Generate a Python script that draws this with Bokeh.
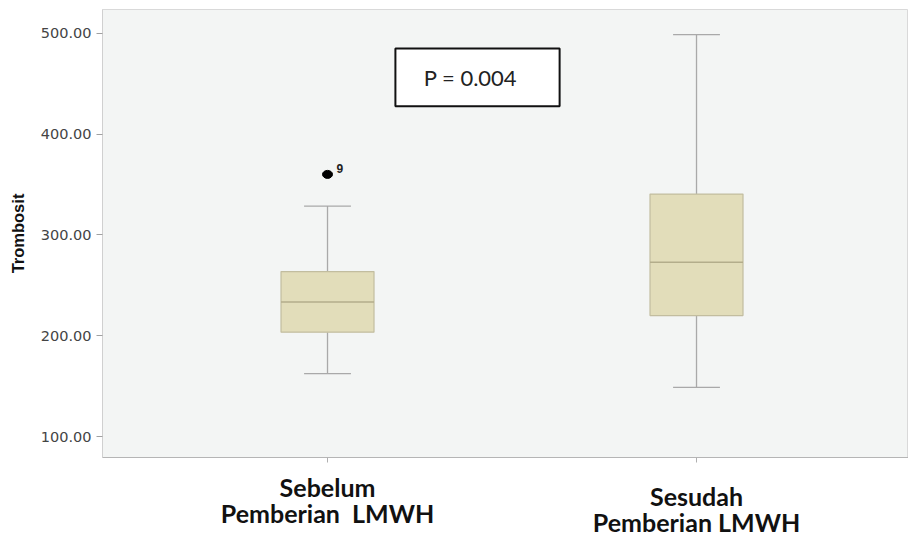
from bokeh.plotting import figure
from bokeh.models import (FixedTicker, PrintfTickFormatter, Label, BoxAnnotation,
                          ColumnDataSource, Range1d)
from bokeh.layouts import column
from bokeh.core.properties import value
from bokeh.embed import file_html
from bokeh.resources import INLINE

# ---- data ----
categories = ["Sebelum\nPemberian  LMWH", "Sesudah\nPemberian LMWH"]
positions = [1, 2]
q1 = [203.5, 220.0]
median = [233.5, 273.0]
q3 = [263.7, 340.6]
whisker_low = [162.4, 148.8]
whisker_high = [328.7, 498.7]
outlier_group = [1]
outlier_value = [360.1]
outlier_case = ["9"]
y_ticks = [100, 200, 300, 400, 500]
p_text = "P = 0.004"

# ---- styles ----
BOX_W = 0.252
CAP_W = 0.127
box_fill = "#e2ddba"
box_line = "#c2bd9f"
med_color = "#b3ad8b"
whisk_color = "#a9a9a9"

MAIN_H = 470
xr = Range1d(0.3902, 2.5745)
p = figure(width=908, height=MAIN_H, output_backend="svg", toolbar_location=None,
           x_range=xr, y_range=Range1d(79.2, 523.7),
           min_border_left=102, min_border_right=0, min_border_top=9,
           min_border_bottom=12)
p.background_fill_color = "#f3f5f4"
p.border_fill_color = "white"
p.outline_line_color = "#d9d9d9"
p.grid.visible = False

# y axis
p.yaxis.ticker = FixedTicker(ticks=y_ticks)
p.yaxis.formatter = PrintfTickFormatter(format="%.2f")
p.yaxis.axis_label = "Trombosit"
p.yaxis.axis_label_text_font = "Liberation Sans"
p.yaxis.axis_label_text_font_style = "bold"
p.yaxis.axis_label_text_font_size = "16.5px"
p.yaxis.axis_label_text_color = "#111111"
p.yaxis.axis_label_standoff = 11
p.yaxis.major_label_text_font = "DejaVu Sans"
p.yaxis.major_label_text_font_size = "14.5px"
p.yaxis.major_label_text_color = "#444444"
p.yaxis.major_label_standoff = 5
p.yaxis.major_tick_in = 0
p.yaxis.major_tick_out = 6
p.yaxis.major_tick_line_color = "#a0a0a0"
p.yaxis.minor_tick_line_color = None
p.yaxis.axis_line_color = "#d0d0d0"

# x axis (ticks only; category labels are drawn in the strip below)
p.xaxis.ticker = FixedTicker(ticks=positions)
p.xaxis.major_label_overrides = {1: " ", 2: " "}
p.xaxis.major_label_text_font_size = "4px"
p.xaxis.major_label_standoff = 0
p.xaxis.major_tick_in = 0
p.xaxis.major_tick_out = 5
p.xaxis.major_tick_line_color = "#b0b0b0"
p.xaxis.minor_tick_line_color = None
p.xaxis.axis_line_color = "#b5b5b5"

src = ColumnDataSource(dict(
    x=positions, q1=q1, med=median, q3=q3, lo=whisker_low, hi=whisker_high,
    x0=[x - BOX_W / 2 for x in positions], x1=[x + BOX_W / 2 for x in positions],
    c0=[x - CAP_W / 2 for x in positions], c1=[x + CAP_W / 2 for x in positions],
))

# whiskers
p.segment(x0="x", y0="q3", x1="x", y1="hi", source=src, line_color=whisk_color, line_width=1.3)
p.segment(x0="x", y0="q1", x1="x", y1="lo", source=src, line_color=whisk_color, line_width=1.3)
p.segment(x0="c0", y0="hi", x1="c1", y1="hi", source=src, line_color=whisk_color, line_width=1.3)
p.segment(x0="c0", y0="lo", x1="c1", y1="lo", source=src, line_color=whisk_color, line_width=1.3)
# boxes
p.vbar(x="x", width=BOX_W, bottom="q1", top="q3", source=src,
       fill_color=box_fill, line_color=box_line, line_width=1.2)
p.segment(x0="x0", y0="med", x1="x1", y1="med", source=src, line_color=med_color, line_width=1.5)

# outlier
osrc = ColumnDataSource(dict(x=outlier_group, y=outlier_value, t=outlier_case))
p.ellipse(x="x", y="y", width=10, height=8, width_units="screen", height_units="screen",
          source=osrc, fill_color="black", line_color="black")
p.text(x="x", y="y", text="t", source=osrc, x_offset=9, y_offset=-6,
       text_font=value("Liberation Sans"), text_font_style="bold",
       text_font_size="12px", text_color="#222222", text_baseline="alphabetic")

# P-value box
p.add_layout(BoxAnnotation(left=1.184, right=1.629, bottom=427.7, top=485.1,
                           fill_color="white", fill_alpha=1.0,
                           line_color="#111111", line_alpha=1.0, line_width=2))
p.add_layout(Label(x=1.3875, y=456.4, text=p_text, text_align="center",
                   text_baseline="middle", text_font="Lato",
                   text_font_size="22px", text_color="#222222"))

# ---- strip with the category labels ----
STRIP_H = 537 - MAIN_H
s = figure(width=908, height=STRIP_H, output_backend="svg", toolbar_location=None,
           x_range=xr, y_range=Range1d(STRIP_H, 0),
           min_border_left=102, min_border_right=0, min_border_top=0,
           min_border_bottom=0)
s.axis.visible = False
s.grid.visible = False
s.outline_line_color = None
s.background_fill_color = "white"
s.border_fill_color = "white"

# strip-pixel baselines of each label line
line_baselines = [[16, 42], [25, 51]]
lx, ly, lt = [], [], []
for xpos, txt, bl in zip(positions, categories, line_baselines):
    for line, yb in zip(txt.split("\n"), bl):
        lx.append(xpos)
        ly.append(yb)
        lt.append(line.replace("  ", " \u00a0"))
s.text(x=lx, y=ly, text=lt, text_align="center", text_baseline="alphabetic",
       text_font=value("Lato"), text_font_style="bold", text_font_size="25px",
       text_color="#111111")

layout = column(p, s, spacing=0)
open("out.html", "w").write(file_html(layout, INLINE))
